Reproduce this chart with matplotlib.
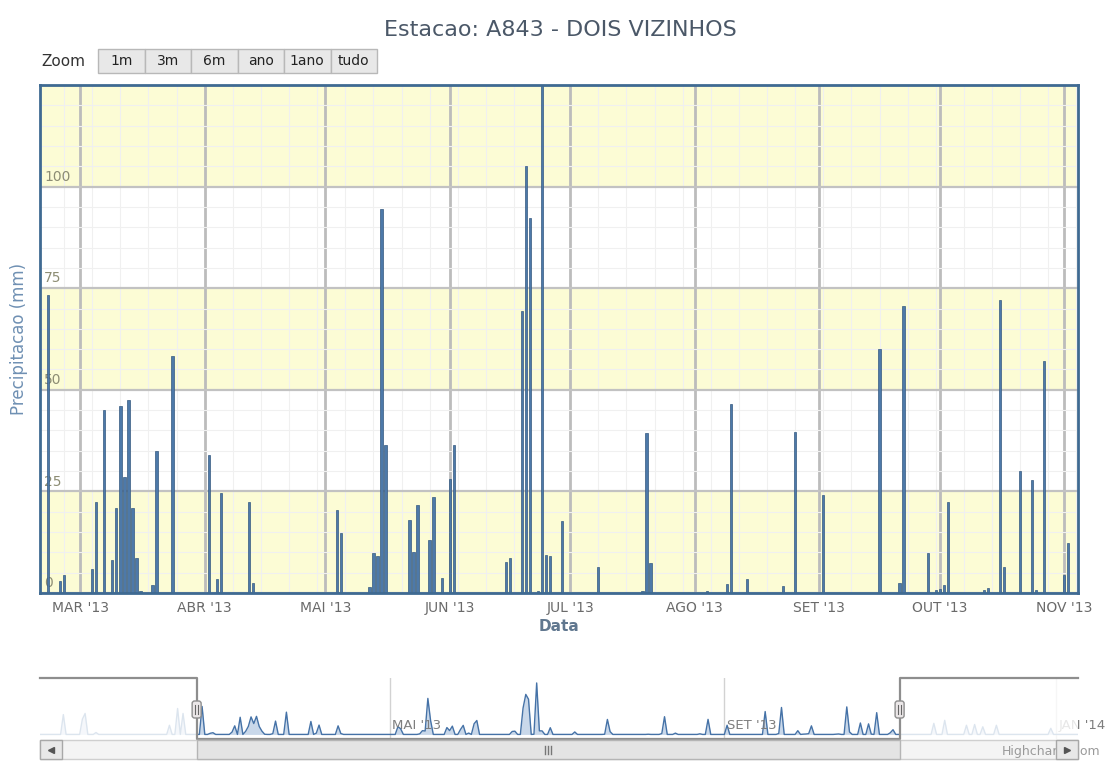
import pandas as pd
import numpy as np
import matplotlib
matplotlib.use('Agg')
import matplotlib.pyplot as plt
import matplotlib.dates as mdates
from matplotlib.patches import Rectangle, FancyBboxPatch
from matplotlib.lines import Line2D
from matplotlib.transforms import IdentityTransform

# daily rain at station A843 (mm)
rain_dates = ['2013-02-21', '2013-02-24', '2013-02-25', '2013-03-04', '2013-03-05', '2013-03-07',
              '2013-03-09', '2013-03-10', '2013-03-11', '2013-03-12', '2013-03-13', '2013-03-14',
              '2013-03-15', '2013-03-16', '2013-03-19', '2013-03-20', '2013-03-24', '2013-04-02',
              '2013-04-04', '2013-04-05', '2013-04-12', '2013-04-13', '2013-05-04', '2013-05-05',
              '2013-05-12', '2013-05-13', '2013-05-14', '2013-05-15', '2013-05-16', '2013-05-22',
              '2013-05-23', '2013-05-24', '2013-05-27', '2013-05-28', '2013-05-30', '2013-06-01',
              '2013-06-02', '2013-06-15', '2013-06-16', '2013-06-19', '2013-06-20', '2013-06-21',
              '2013-06-23', '2013-06-24', '2013-06-25', '2013-06-26', '2013-06-29', '2013-07-08',
              '2013-07-19', '2013-07-20', '2013-07-21', '2013-08-04', '2013-08-09', '2013-08-10',
              '2013-08-14', '2013-08-23', '2013-08-26', '2013-09-02', '2013-09-16', '2013-09-21',
              '2013-09-22', '2013-09-28', '2013-09-30', '2013-10-01', '2013-10-02', '2013-10-03',
              '2013-10-12', '2013-10-13', '2013-10-16', '2013-10-17', '2013-10-21', '2013-10-24',
              '2013-10-25', '2013-10-27', '2013-11-01', '2013-11-02']
rain_mm = [73.4, 3.0, 4.5, 6.0, 22.5, 45.0,
           8.0, 21.0, 46.0, 28.5, 47.4, 21.0,
           8.6, 0.5, 2.0, 35.0, 58.4, 34.0,
           3.5, 24.5, 22.5, 2.5, 20.5, 14.7,
           1.5, 9.8, 9.0, 94.5, 36.5, 18.0,
           10.0, 21.7, 13.0, 23.7, 3.6, 28.0,
           36.5, 7.7, 8.5, 69.3, 105.0, 92.3,
           0.5, 135.0, 9.4, 9.2, 17.6, 6.5,
           0.5, 39.3, 7.3, 0.5, 2.2, 46.5,
           3.4, 1.6, 39.5, 24.1, 60.0, 2.4,
           70.7, 9.8, 0.7, 1.1, 2.0, 22.5,
           0.7, 1.2, 72.2, 6.5, 30.0, 27.7,
           0.8, 57.1, 4.4, 12.4]

# rain outside the zoomed window, only seen in the navigator
nav_dates = ['2013-01-01', '2013-01-08', '2013-01-09', '2013-01-13', '2013-02-09', '2013-02-12',
             '2013-02-14', '2013-11-17', '2013-11-21', '2013-11-29', '2013-12-02', '2013-12-05',
             '2013-12-10', '2013-12-30']
nav_mm = [52.0, 40.0, 55.0, 5.0, 24.0, 68.0,
          55.0, 29.0, 37.0, 24.0, 26.0, 20.0,
          24.0, 16.0]

month_ticks = ['2013-03-01', '2013-04-01', '2013-05-01', '2013-06-01', '2013-07-01',
               '2013-08-01', '2013-09-01', '2013-10-01', '2013-11-01']
month_labels = ["MAR '13", "ABR '13", "MAI '13", "JUN '13", "JUL '13",
                "AGO '13", "SET '13", "OUT '13", "NOV '13"]
nav_ticks = ['2013-05-01', '2013-09-01', '2014-01-01']
nav_labels = ["MAI '13", "SET '13", "JAN '14"]
y_ticks = [0, 25, 50, 75, 100]
buttons = ['1m', '3m', '6m', 'ano', '1ano', 'tudo']

sel_start = pd.Timestamp('2013-02-19')
sel_end = pd.Timestamp('2013-11-04 10:00')
nav_start = pd.Timestamp('2012-12-23 10:00')
nav_end = pd.Timestamp('2014-01-09')

W, H = 1120, 761
fig = plt.figure(figsize=(W / 100, H / 100), dpi=100)
fig.patch.set_facecolor('white')


def frac(x0, y0, x1, y1):
    return [x0 / W, 1 - y1 / H, (x1 - x0) / W, (y1 - y0) / H]


# ---- main chart ----
ax = fig.add_axes(frac(40, 85, 1078, 593))
dates = pd.to_datetime(rain_dates)
for lo, hi in [(0, 25), (50, 75), (100, 125)]:
    ax.axhspan(lo, hi, color='#fcfcd5', zorder=0, lw=0)
ax.bar(dates, rain_mm, width=0.58, color='#4d79a9', edgecolor='#34597f', linewidth=0.5, zorder=3)
ax.set_xlim(sel_start, sel_end)
ax.set_ylim(0, 125)

ax.set_yticks(y_ticks + [125])
ax.set_yticks(np.arange(0, 126, 5), minor=True)
ax.set_xticks(pd.to_datetime(month_ticks))
ax.set_xticklabels(month_labels)
ax.xaxis.set_minor_locator(mdates.WeekdayLocator(byweekday=mdates.MO))
ax.set_yticklabels([])
ax.grid(which='minor', color='#f0f0f0', lw=0.8, zorder=1)
ax.grid(which='major', axis='y', color='#c2c2c2', lw=1.6, zorder=1.2)
ax.grid(which='major', axis='x', color='#bcbcbc', lw=2.0, zorder=1.2)
ax.tick_params(which='both', length=0)
ax.tick_params(axis='x', pad=6, labelsize=10, labelcolor='#6a6a6a')
for s in ax.spines.values():
    s.set_color('#3f6a92')
    s.set_linewidth(2)
    s.set_zorder(4)
for v in y_ticks:
    ax.text(0.004, v + 0.7, str(v), transform=ax.get_yaxis_transform(), ha='left', va='bottom',
            fontsize=10, color='#8d8d74', zorder=2)

ax.set_ylabel('Precipitacao (mm)', fontsize=12, color='#6f90b3')
ax.yaxis.set_label_coords(-12 / 1038, 0.5)
ax.set_xlabel('Data', fontsize=11, fontweight='bold', color='#60778f')
ax.xaxis.set_label_coords(0.5, -26 / 508)
ax.xaxis.label.set_va('top')

fig.text(0.5, 1 - 30 / H, 'Estacao: A843 - DOIS VIZINHOS', ha='center', va='center',
         fontsize=16, color='#4b5868')

# zoom buttons
fig.text(41 / W, 1 - 61 / H, 'Zoom', ha='left', va='center', fontsize=11, color='#333333')
for i, b in enumerate(buttons):
    x0 = 98 + i * 46.5
    fig.patches.append(Rectangle(frac(x0, 49, x0 + 46.5, 73)[:2], 46.5 / W, 24 / H,
                                 transform=fig.transFigure, facecolor='#e8e8e8',
                                 edgecolor='#b8b8b8', lw=1))
    fig.text((x0 + 23.25) / W, 1 - 61 / H, b, ha='center', va='center', fontsize=10, color='#222222')

# ---- navigator ----
nav = fig.add_axes(frac(40, 678, 1078, 739))
all_days = pd.date_range('2012-12-20', '2014-01-12', freq='D')
series = pd.Series(rain_mm, index=dates)
series = pd.concat([series, pd.Series(nav_mm, index=pd.to_datetime(nav_dates))]).sort_index()
daily = series.reindex(all_days, fill_value=0.0)
nav.fill_between(daily.index, 0, daily.values, color='#c9d8ea', lw=0, zorder=1)
nav.plot(daily.index, daily.values, color='#4572a7', lw=1, zorder=2)
nav.set_xlim(nav_start, nav_end)
nav.set_ylim(-12, 148)
nav.set_xticks(pd.to_datetime(nav_ticks))
nav.set_yticks([])
nav.grid(axis='x', color='#d2d2d2', lw=1)
nav.tick_params(length=0, labelbottom=False)
for s in nav.spines.values():
    s.set_visible(False)
for d, lab in zip(pd.to_datetime(nav_ticks), nav_labels):
    nav.text(d + pd.Timedelta(days=1), 0.22, lab, transform=nav.get_xaxis_transform(),
             ha='left', va='center', fontsize=9.5, color='#7e7e7e', zorder=2)
nav.axvspan(nav_start, sel_start, color='white', alpha=0.82, lw=0, zorder=3)
nav.axvspan(sel_end, nav_end, color='white', alpha=0.82, lw=0, zorder=3)
nav.plot([nav_start, sel_start, sel_start, sel_end, sel_end, nav_end], [1, 1, 0, 0, 1, 1],
         transform=nav.get_xaxis_transform(), color='#8e8e8e', lw=1.6, clip_on=False, zorder=4)

# pixel positions of the selection (y up from bottom)
xs = nav.transData.transform([[mdates.date2num(sel_start), 0], [mdates.date2num(sel_end), 0]])[:, 0]

# scrollbar
fig.patches.append(Rectangle((40 / W, 1 - 759 / H), 1038 / W, 19 / H, transform=fig.transFigure,
                             facecolor='#f4f4f4', edgecolor='#cfcfcf', lw=1, zorder=1))
fig.patches.append(Rectangle((xs[0] / W, 1 - 759 / H), (xs[1] - xs[0]) / W, 19 / H,
                             transform=fig.transFigure, facecolor='#e4e4e4', edgecolor='#b5b5b5',
                             lw=1, zorder=2))
fig.text(1100 / W, 1 - 752 / H, 'Highcharts.com', ha='right', va='center', fontsize=9,
         color='#9a9a9a', zorder=2.5)
for bx in (40, 1056):
    fig.patches.append(Rectangle((bx / W, 1 - 759 / H), 22 / W, 19 / H, transform=fig.transFigure,
                                 facecolor='#e8e8e8', edgecolor='#a8a8a8', lw=1, zorder=3))
fig.lines.append(Line2D([51], [H - 750], marker='<', markersize=4, color='#555555',
                        transform=IdentityTransform(), zorder=4))
fig.lines.append(Line2D([1067], [H - 750], marker='>', markersize=4, color='#555555',
                        transform=IdentityTransform(), zorder=4))
cx = (xs[0] + xs[1]) / 2
for dx in (-3, 0, 3):
    fig.lines.append(Line2D([cx + dx, cx + dx], [H - 754, H - 746], color='#777777', lw=1,
                            transform=IdentityTransform(), zorder=4))

# navigator handles
for hx in xs:
    fig.patches.append(FancyBboxPatch((hx - 4.5, H - 718), 9, 17,
                                      boxstyle='round,pad=0,rounding_size=2.5',
                                      facecolor='#ebe7e8', edgecolor='#8e8e8e', lw=1,
                                      transform=IdentityTransform(), zorder=5))
    for dx in (-1.5, 1.5):
        fig.lines.append(Line2D([hx + dx, hx + dx], [H - 714, H - 705], color='#666666', lw=0.8,
                                transform=IdentityTransform(), zorder=6))

fig.savefig('out.png', dpi=100)
